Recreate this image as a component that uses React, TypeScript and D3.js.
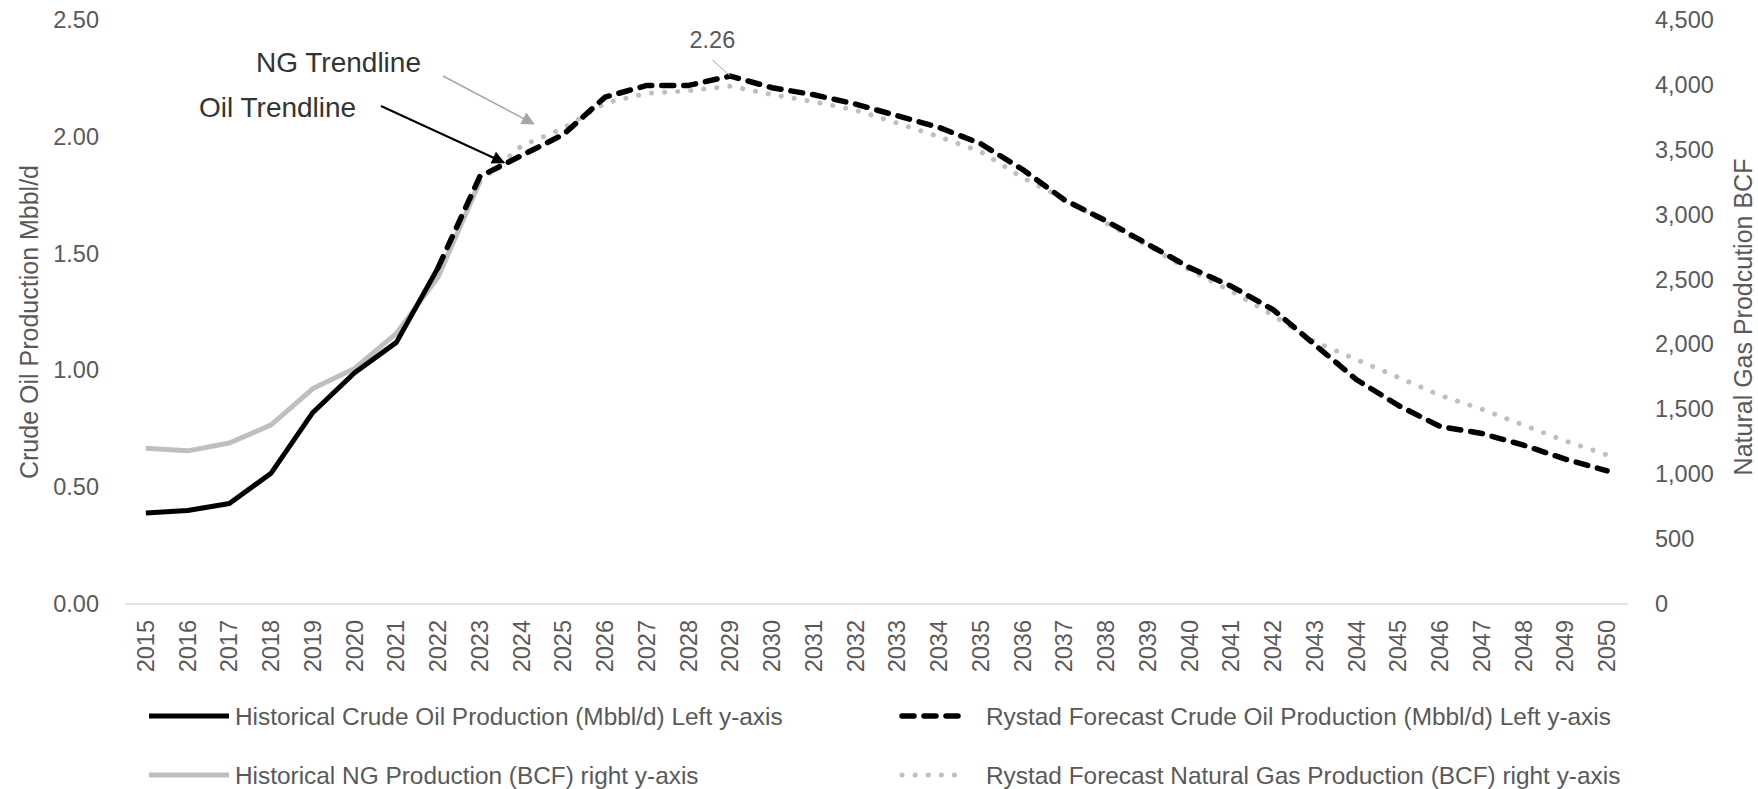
import * as d3 from "d3";

const years = [
  2015, 2016, 2017, 2018, 2019, 2020, 2021, 2022, 2023, 2024, 2025, 2026,
  2027, 2028, 2029, 2030, 2031, 2032, 2033, 2034, 2035, 2036, 2037, 2038,
  2039, 2040, 2041, 2042, 2043, 2044, 2045, 2046, 2047, 2048, 2049, 2050,
];

// crude oil, Mbbl/d (left axis)
const oilHistoricalStart = 2015;
const oilHistorical = [0.39, 0.4, 0.43, 0.56, 0.82, 0.99, 1.12, 1.44];
const oilForecastStart = 2022;
const oilForecast = [
  1.44, 1.83, 1.92, 2.01, 2.17, 2.22, 2.22, 2.26, 2.21, 2.18, 2.14, 2.09,
  2.04, 1.97, 1.86, 1.73, 1.64, 1.54, 1.44, 1.36, 1.26, 1.11, 0.96, 0.85,
  0.76, 0.73, 0.68, 0.62, 0.57,
];

// natural gas, BCF (right axis)
const ngHistoricalStart = 2015;
const ngHistorical = [1200, 1180, 1240, 1380, 1660, 1815, 2085, 2520, 3255];
const ngForecastStart = 2023;
const ngForecast = [
  3255, 3530, 3665, 3860, 3935, 3955, 3990, 3925, 3870, 3805, 3705, 3600,
  3485, 3285, 3120, 2935, 2760, 2573, 2410, 2225, 2021, 1883, 1746, 1608,
  1501, 1378, 1256, 1149,
];

const leftTicks = [0, 0.5, 1, 1.5, 2, 2.5];
const rightTicks = [0, 500, 1000, 1500, 2000, 2500, 3000, 3500, 4000, 4500];

const peakYear = 2029;
const peakLabel = "2.26";

const legendLabels = [
  "Historical Crude Oil Production (Mbbl/d) Left y-axis",
  "Rystad Forecast Crude Oil Production (Mbbl/d) Left y-axis",
  "Historical NG Production (BCF) right y-axis",
  "Rystad Forecast Natural Gas Production (BCF) right y-axis",
];

const WIDTH = 1758;
const HEIGHT = 789;
const MARGIN = { left: 125, right: 130, top: 20, bottom: 185 };
const FONT = "'Liberation Sans', Arial, sans-serif";
const TEXT = "#595959";
const GREY = "#bfbfbf";

const toPoints = (start: number, values: number[]) =>
  values.map((v, i) => ({ year: start + i, value: v }));

export default function App() {
  const x0 = MARGIN.left;
  const x1 = WIDTH - MARGIN.right;
  const y0 = HEIGHT - MARGIN.bottom;
  const y1 = MARGIN.top;

  const xScale = d3.scaleBand<number>().domain(years).range([x0, x1]).padding(0);
  const xPos = (yr: number) => (xScale(yr) ?? 0) + xScale.bandwidth() / 2;
  const yLeft = d3.scaleLinear().domain([0, 2.5]).range([y0, y1]);
  const yRight = d3.scaleLinear().domain([0, 4500]).range([y0, y1]);

  const leftLine = d3
    .line<{ year: number; value: number }>()
    .x((d) => xPos(d.year))
    .y((d) => yLeft(d.value));
  const rightLine = d3
    .line<{ year: number; value: number }>()
    .x((d) => xPos(d.year))
    .y((d) => yRight(d.value));

  const styles = [
    { stroke: "#000", width: 5, dash: undefined, cap: "butt" },
    { stroke: "#000", width: 5.5, dash: "12 10", cap: "round" },
    { stroke: GREY, width: 5, dash: undefined, cap: "butt" },
    { stroke: GREY, width: 5, dash: "0.1 13", cap: "round" },
  ];

  const legendPos = [
    { x: 149, y: 716 },
    { x: 899, y: 716 },
    { x: 149, y: 775 },
    { x: 899, y: 775 },
  ];

  const peakX = xPos(peakYear);
  const peakY = yLeft(oilForecast[peakYear - oilForecastStart]);

  // arrow tips sit on the trend lines
  const oilTip = { x: xPos(2023) + 24, y: yLeft(1.89) };
  const ngTip = { x: xPos(2024) + 12, y: yRight(3700) };

  return (
    <svg
      width={WIDTH}
      height={HEIGHT}
      style={{ position: "absolute", left: 0, top: 0, background: "#fff" }}
      fontFamily={FONT}
    >
      <defs>
        <marker id="headBlack" viewBox="0 0 10 10" refX="9" refY="5" markerWidth="17" markerHeight="13" orient="auto" markerUnits="userSpaceOnUse">
          <path d="M0,0 L10,5 L0,10 z" fill="#000" />
        </marker>
        <marker id="headGrey" viewBox="0 0 10 10" refX="9" refY="5" markerWidth="17" markerHeight="13" orient="auto" markerUnits="userSpaceOnUse">
          <path d="M0,0 L10,5 L0,10 z" fill="#a6a6a6" />
        </marker>
      </defs>

      {/* left axis ticks */}
      {leftTicks.map((t) => (
        <text key={t} x={99} y={yLeft(t)} fontSize={23.5} fill={TEXT} textAnchor="end" dominantBaseline="central">
          {t.toFixed(2)}
        </text>
      ))}
      {/* right axis ticks */}
      {rightTicks.map((t) => (
        <text key={t} x={1655} y={yRight(t)} fontSize={23.5} fill={TEXT} textAnchor="start" dominantBaseline="central">
          {d3.format(",")(t)}
        </text>
      ))}

      <text transform={`translate(38,${(y0 + y1) / 2 + 10}) rotate(-90)`} fontSize={25} fill={TEXT} textAnchor="middle">
        Crude Oil Production Mbbl/d
      </text>
      <text transform={`translate(1752,${(y0 + y1) / 2 + 5}) rotate(-90)`} fontSize={25} fill={TEXT} textAnchor="middle">
        Natural Gas Prodcution BCF
      </text>

      {/* x axis */}
      <line x1={x0} x2={x1} y1={y0} y2={y0} stroke="#d9d9d9" strokeWidth={1.5} />
      {years.map((yr) => (
        <text
          key={yr}
          transform={`translate(${xPos(yr)},${y0 + 16}) rotate(-90)`}
          fontSize={23.5}
          fill={TEXT}
          textAnchor="end"
          dominantBaseline="central"
        >
          {yr}
        </text>
      ))}

      {/* series */}
      <path d={rightLine(toPoints(ngHistoricalStart, ngHistorical)) ?? ""} fill="none" stroke={styles[2].stroke} strokeWidth={styles[2].width} strokeLinejoin="round" />
      <path d={leftLine(toPoints(oilHistoricalStart, oilHistorical)) ?? ""} fill="none" stroke={styles[0].stroke} strokeWidth={styles[0].width} strokeLinejoin="round" />
      <path d={rightLine(toPoints(ngForecastStart, ngForecast)) ?? ""} fill="none" stroke={styles[3].stroke} strokeWidth={styles[3].width} strokeDasharray={styles[3].dash} strokeLinecap="round" />
      <path d={leftLine(toPoints(oilForecastStart, oilForecast)) ?? ""} fill="none" stroke={styles[1].stroke} strokeWidth={styles[1].width} strokeDasharray={styles[1].dash} strokeLinecap="round" strokeLinejoin="round" />

      {/* peak label */}
      <line x1={peakX - 18} y1={peakY - 16} x2={peakX} y2={peakY} stroke="#a6a6a6" strokeWidth={1} />
      <text x={peakX - 18} y={peakY - 36} fontSize={23.5} fill={TEXT} textAnchor="middle" dominantBaseline="central">
        {peakLabel}
      </text>

      {/* trendline annotations */}
      <text x={256} y={72} fontSize={28} fill="#333">NG Trendline</text>
      <line x1={443} y1={76} x2={ngTip.x} y2={ngTip.y} stroke="#a6a6a6" strokeWidth={1.5} markerEnd="url(#headGrey)" />
      <text x={199} y={117} fontSize={28} fill="#333">Oil Trendline</text>
      <line x1={381} y1={106} x2={oilTip.x} y2={oilTip.y} stroke="#000" strokeWidth={2} markerEnd="url(#headBlack)" />

      {/* legend */}
      {legendLabels.map((label, i) => {
        const s = styles[i];
        const p = legendPos[i];
        const lineEnd = i % 2 === 0 ? 80 : 71;
        return (
          <g key={label} transform={`translate(${p.x},${p.y})`}>
            <line x1={s.cap === "round" ? 3 : 0} x2={s.cap === "round" ? lineEnd - 3 : lineEnd} y1={0} y2={0} stroke={s.stroke} strokeWidth={s.width} strokeDasharray={s.dash} strokeLinecap={s.cap as any} />
            <text x={i % 2 === 0 ? 86 : 87} y={0} fontSize={24.4} fill={TEXT} dominantBaseline="central">
              {label}
            </text>
          </g>
        );
      })}
    </svg>
  );
}
